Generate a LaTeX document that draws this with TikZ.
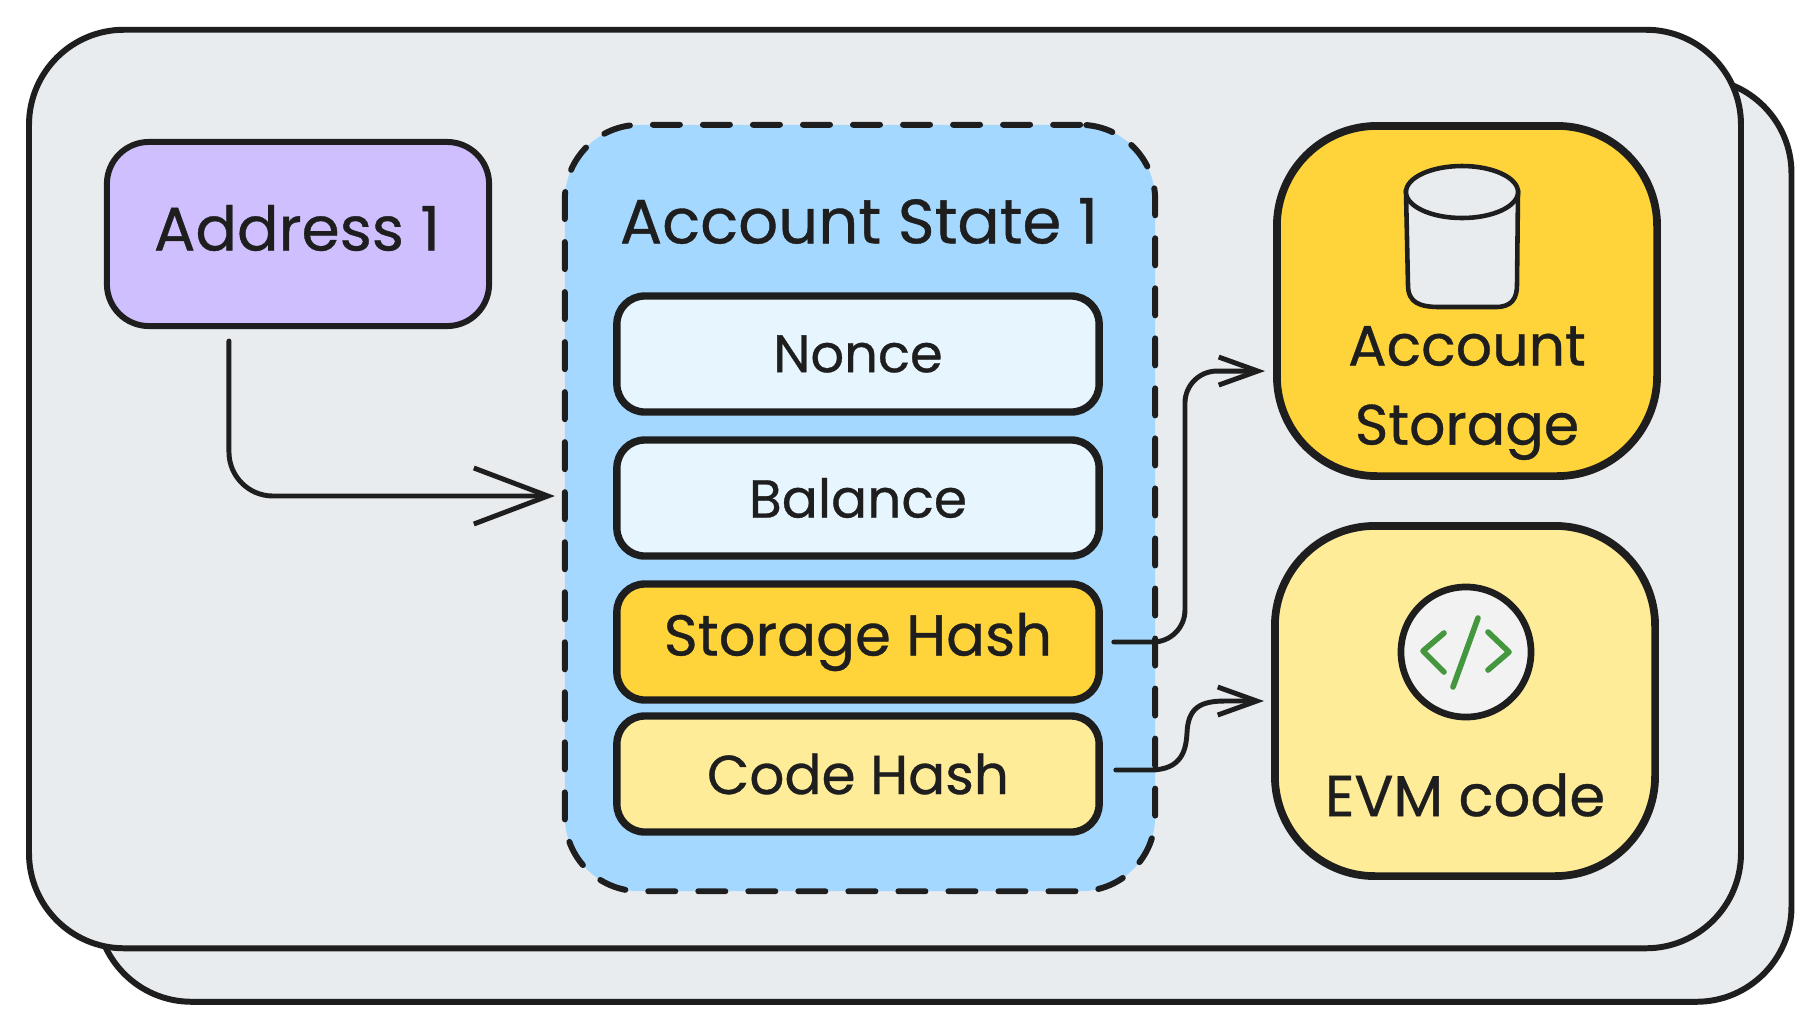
\documentclass[tikz,border=0pt]{standalone}
\usepackage{fontspec}
\setmainfont[FakeBold=0.6]{Poppins}
\usepackage{tikz}
\usetikzlibrary{arrows.meta,positioning}
\definecolor{ink}{HTML}{1E1E1E}
\definecolor{cardgray}{HTML}{E9ECEF}
\definecolor{purplebox}{HTML}{D0BFFF}
\definecolor{bluebox}{HTML}{A5D8FF}
\definecolor{paleblue}{HTML}{E7F5FF}
\definecolor{goldbox}{HTML}{FFD43B}
\definecolor{paleyellow}{HTML}{FFEC99}
\definecolor{codegreen}{HTML}{44963F}
\tikzset{
  sketchbox/.style={draw=ink,line width=1.7pt,inner sep=0pt,align=center,text=ink},
  card/.style={sketchbox,fill=cardgray,rounded corners=0.95cm},
  fieldbox/.style={sketchbox,line width=2.1pt,minimum width=4.82cm,minimum height=1.16cm,rounded corners=0.28cm},
  storebox/.style={sketchbox,line width=2.2pt,minimum width=3.8cm,minimum height=3.5cm,rounded corners=1cm},
  caption/.style={text=ink,align=center},
  link/.style={draw=ink,line width=1.4pt,line cap=round,line join=round,-{Straight Barb[length=0.39cm,width=0.28cm,line width=1.4pt]}},
  codemark/.style={draw=codegreen,line width=1.6pt,line cap=round,line join=round}
}
\begin{document}
\begin{tikzpicture}[x=0.01cm,y=-0.01cm]
  \useasboundingbox (0,0) rectangle (1820,1032);
  \fill[white] (0,0) rectangle (1820,1032);
  \node[card,minimum width=16.94cm,minimum height=9.23cm] (backcard) at (944,540) {};
  \node[card,minimum width=17.11cm,minimum height=9.18cm] (frontcard) at (885,489) {};
  \node[sketchbox,fill=purplebox,minimum width=3.82cm,minimum height=1.84cm,rounded corners=0.42cm] (address) at (298,234) {};
  \node[caption,font=\fontsize{17.5}{22}\selectfont] (addresslabel) at (297,228) {Address 1};
  \node[sketchbox,fill=bluebox,dash pattern=on 0.27cm off 0.23cm,line cap=round,minimum width=5.9cm,minimum height=7.66cm,rounded corners=0.75cm] (state) at (860,508) {};
  \node[caption,font=\fontsize{17.8}{22}\selectfont] (statetitle) at (859,221) {Account State 1};
  \foreach \boxname/\boxy/\boxsize/\boxcol/\boxtxt in {nonce/354/15/paleblue/Nonce,balance/498/15.2/paleblue/Balance,storagehash/642/16.4/goldbox/Storage Hash,codehash/774/15.6/paleyellow/Code Hash}
    { \node[fieldbox,fill=\boxcol,font=\fontsize{\boxsize}{22}\selectfont] (\boxname) at (858,\boxy) {\boxtxt}; }
  \node[storebox,fill=goldbox] (accountstorage) at (1467,301) {};
  \node[storebox,fill=paleyellow] (evmcode) at (1465,701) {};
  \node[caption,font=\fontsize{16.2}{22.5}\selectfont] (storagelabel) at (1467,393) {Account\\Storage};
  \node[caption,font=\fontsize{16.4}{22}\selectfont] (evmlabel) at (1465,795) {EVM code};
  % cylinder
  \draw[draw=ink,fill=cardgray,line width=1.3pt] (1406,192) -- (1408,285) .. controls (1408,303) and (1420,307) .. (1440,307) -- (1496,307) .. controls (1512,307) and (1517,298) .. (1517,285) -- (1518,192) -- cycle;
  \draw[draw=ink,fill=cardgray,line width=1.3pt] (1462,192) ellipse [x radius=56,y radius=26];
  % code icon
  \node[circle,draw=ink,fill=black!5,line width=1.9pt,minimum size=1.3cm,inner sep=0pt] (codeicon) at (1466,652) {};
  \draw[codemark] (1444,633) -- (1423,651) -- (1444,672);
  \draw[codemark] (1478,618) -- (1453,687);
  \draw[codemark] (1488,632) -- (1509,652) -- (1488,670);
  % connectors
  \draw[link,rounded corners=0.44cm,-{Straight Barb[length=0.74cm,width=0.56cm,line width=1.4pt]}] ([xshift=-0.69cm,yshift=-0.12cm]address.south) |- ([xshift=-0.07cm,yshift=0.12cm]state.west);
  \draw[link,rounded corners=0.32cm] ([xshift=0.11cm]storagehash.east) -| ([xshift=-0.88cm,yshift=-0.7cm]accountstorage.west) -- ([xshift=-0.08cm,yshift=-0.7cm]accountstorage.west);
  \draw[link] ([xshift=0.13cm,yshift=0.04cm]codehash.east) -- (1150,770) .. controls (1182,770) and (1186,750) .. (1187,733) .. controls (1188,708) and (1200,701) .. (1225,701) -- ([xshift=-0.07cm]evmcode.west);
\end{tikzpicture}
\end{document}
